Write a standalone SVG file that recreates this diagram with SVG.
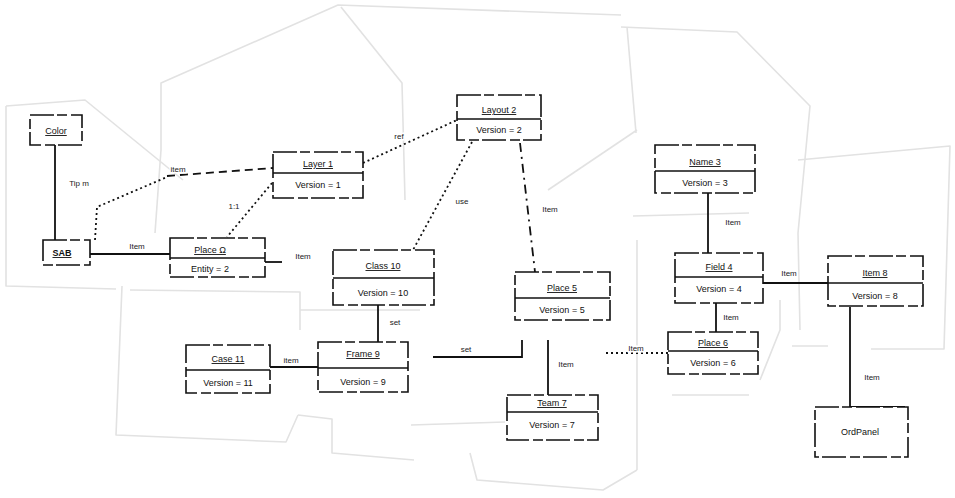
<svg xmlns="http://www.w3.org/2000/svg" width="955" height="498" viewBox="0 0 955 498">
<defs>
<style>
.bg{fill:none;stroke:#e2e2e2;stroke-width:1.6;stroke-linejoin:round}
.box{fill:#fff;stroke:#111;stroke-width:1.6;stroke-dasharray:24 3 10 4}
.sep{stroke:#111;stroke-width:1.5}
.t{font-family:"Liberation Sans",Arial,sans-serif;font-size:9px;fill:#111;text-anchor:middle}
.u{text-decoration:underline}
.lbl{font-family:"Liberation Sans",Arial,sans-serif;font-size:8px;fill:#222;text-anchor:middle;stroke:#fff;stroke-width:3px;paint-order:stroke}
.solid{fill:none;stroke:#111;stroke-width:1.8}
.dot{fill:none;stroke:#111;stroke-width:1.8;stroke-dasharray:2 3}
.dash{fill:none;stroke:#111;stroke-width:1.8;stroke-dasharray:8 5}
.dashdot{fill:none;stroke:#111;stroke-width:1.8;stroke-dasharray:9 5 2 5}
</style>
</defs>
<rect width="955" height="498" fill="#fff"/>
<g id="background">
<polyline class="bg" points="6,106 85,100 183,180"/>
<polyline class="bg" points="6,106 6,286 116,289"/>
<polyline class="bg" points="161,150 161,83 338,5 621,15"/>
<polyline class="bg" points="341,7 402,83 405,200"/>
<polyline class="bg" points="155,233 161,150"/>
<polyline class="bg" points="122,286 116,435 286,442 298,415"/>
<polyline class="bg" points="298,415 332,419 332,453 414,460"/>
<polyline class="bg" points="411,425 505,422"/>
<polyline class="bg" points="470,453 477,480 603,490 637,470"/>
<polyline class="bg" points="621,27 737,32 810,106 798,233 800,330"/>
<polyline class="bg" points="627,27 636,133"/>
<polyline class="bg" points="633,216 749,213"/>
<polyline class="bg" points="798,160 950,146 944,349 871,349"/>
<polyline class="bg" points="749,395 672,395"/>
<polyline class="bg" points="792,346 828,346"/>
<polyline class="bg" points="300,310 420,310"/>
<polyline class="bg" points="130,290 300,292 300,330"/>
<polyline class="bg" points="548,190 637,130"/>
<polyline class="bg" points="637,240 637,470"/>
<polyline class="bg" points="760,380 780,330 780,300"/>
</g>
<g id="connectors">
<line class="solid" x1="55" y1="145" x2="55" y2="240"/>
<text class="lbl" x="79" y="186">Tip m</text>
<line class="solid" x1="90" y1="254" x2="170" y2="254"/>
<text class="lbl" x="137" y="249">Item</text>
<polyline class="dot" points="95,240 97,207 167,177"/>
<line class="dash" x1="167" y1="176" x2="273" y2="168"/>
<text class="lbl" x="178" y="172">item</text>
<line class="dot" x1="272" y1="183" x2="227" y2="237"/>
<text class="lbl" x="234" y="209">1:1</text>
<line class="dot" x1="363" y1="163" x2="457" y2="120"/>
<text class="lbl" x="399" y="139">ref</text>
<line class="dot" x1="472" y1="142" x2="413" y2="250"/>
<text class="lbl" x="462" y="204">use</text>
<line class="dashdot" x1="520" y1="143" x2="535" y2="272"/>
<text class="lbl" x="550" y="212">Item</text>
<line class="solid" x1="265" y1="262" x2="282" y2="262"/>
<text class="lbl" x="303" y="259">Item</text>
<line class="solid" x1="378" y1="305" x2="378" y2="342"/>
<text class="lbl" x="395" y="325">set</text>
<line class="solid" x1="270" y1="367" x2="318" y2="367"/>
<text class="lbl" x="291" y="363">item</text>
<polyline class="solid" points="433,357 522,357 522,340"/>
<text class="lbl" x="466" y="352">set</text>
<line class="solid" x1="548" y1="340" x2="548" y2="395"/>
<text class="lbl" x="566" y="367">Item</text>
<line class="dot" x1="606" y1="353" x2="668" y2="353"/>
<text class="lbl" x="636" y="351">Item</text>
<line class="solid" x1="708" y1="193" x2="708" y2="253"/>
<text class="lbl" x="733" y="225">Item</text>
<line class="solid" x1="716" y1="303" x2="716" y2="332"/>
<text class="lbl" x="731" y="320">Item</text>
<line class="solid" x1="763" y1="283" x2="828" y2="283"/>
<text class="lbl" x="789" y="276">Item</text>
<polyline class="solid" points="850,307 850,407 905,407"/>
<text class="lbl" x="872" y="380">Item</text>
</g>
<g id="n1"><rect class="box" x="30" y="115" width="52" height="30"/><text class="t u" x="56" y="134">Color</text></g>
<g id="n2"><rect class="box" x="43" y="240" width="47" height="25"/><text class="t u" x="62" y="256" font-weight="bold">SAB</text></g>
<g id="n3"><rect class="box" x="170" y="238" width="95" height="39"/><line class="sep" x1="170" y1="258" x2="265" y2="258"/><text class="t u" x="210" y="253">Place Ω</text><text class="t" x="210" y="272">Entity = 2</text></g>
<g id="n4"><rect class="box" x="273" y="152" width="90" height="46"/><line class="sep" x1="273" y1="173" x2="363" y2="173"/><text class="t u" x="318" y="167">Layer 1</text><text class="t" x="318" y="188">Version = 1</text></g>
<g id="n5"><rect class="box" x="457" y="95" width="84" height="45"/><line class="sep" x1="457" y1="119" x2="541" y2="119"/><text class="t u" x="499" y="113">Layout 2</text><text class="t" x="499" y="133">Version = 2</text></g>
<g id="n6"><rect class="box" x="333" y="250" width="101" height="55"/><line class="sep" x1="333" y1="278" x2="434" y2="278"/><text class="t u" x="383" y="269">Class 10</text><text class="t" x="383" y="296">Version = 10</text></g>
<g id="n7"><rect class="box" x="186" y="345" width="84" height="48"/><line class="sep" x1="186" y1="370" x2="270" y2="370"/><text class="t u" x="228" y="362">Case 11</text><text class="t" x="228" y="386">Version = 11</text></g>
<g id="n8"><rect class="box" x="318" y="342" width="90" height="50"/><line class="sep" x1="318" y1="368" x2="408" y2="368"/><text class="t u" x="363" y="357">Frame 9</text><text class="t" x="363" y="385">Version = 9</text></g>
<g id="n9"><rect class="box" x="515" y="272" width="95" height="48"/><line class="sep" x1="515" y1="298" x2="610" y2="298"/><text class="t u" x="562" y="291">Place 5</text><text class="t" x="562" y="313">Version = 5</text></g>
<g id="n10"><rect class="box" x="507" y="395" width="91" height="45"/><line class="sep" x1="507" y1="412" x2="598" y2="412"/><text class="t u" x="552" y="406">Team 7</text><text class="t" x="552" y="428">Version = 7</text></g>
<g id="n11"><rect class="box" x="655" y="145" width="100" height="48"/><line class="sep" x1="655" y1="171" x2="755" y2="171"/><text class="t u" x="705" y="165">Name 3</text><text class="t" x="705" y="186">Version = 3</text></g>
<g id="n12"><rect class="box" x="675" y="253" width="88" height="50"/><line class="sep" x1="675" y1="277" x2="763" y2="277"/><text class="t u" x="719" y="270">Field 4</text><text class="t" x="719" y="292">Version = 4</text></g>
<g id="n13"><rect class="box" x="668" y="332" width="90" height="42"/><line class="sep" x1="668" y1="351" x2="758" y2="351"/><text class="t u" x="713" y="346">Place 6</text><text class="t" x="713" y="366">Version = 6</text></g>
<g id="n14"><rect class="box" x="828" y="256" width="95" height="50"/><line class="sep" x1="828" y1="283" x2="923" y2="283"/><text class="t u" x="875" y="276">Item 8</text><text class="t" x="875" y="299">Version = 8</text></g>
<g id="n15"><rect class="box" x="815" y="407" width="93" height="50"/><text class="t" x="860" y="435">OrdPanel</text></g>
</svg>
